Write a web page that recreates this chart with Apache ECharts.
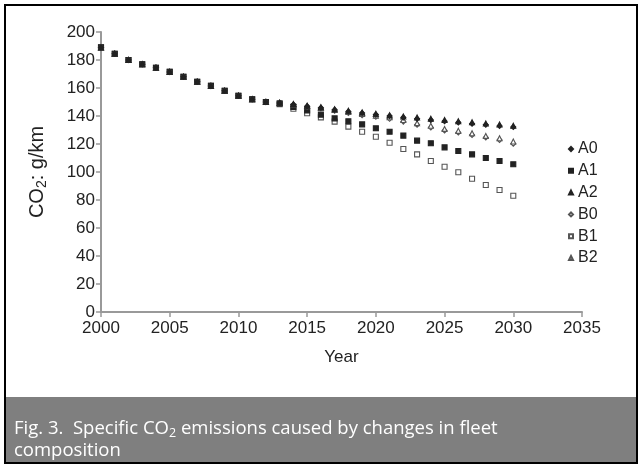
<!DOCTYPE html>
<html>
<head>
<meta charset="utf-8">
<script src="https://cdn.jsdelivr.net/npm/echarts@6/dist/echarts.min.js"></script>
<style>
html,body{margin:0;padding:0;background:#fff;}
#c{width:642px;height:468px;}
</style>
</head>
<body>
<div id="c"></div>
<script>
const years = [2000,2001,2002,2003,2004,2005,2006,2007,2008,2009,2010,2011,2012,2013,2014,2015,2016,2017,2018,2019,2020,2021,2022,2023,2024,2025,2026,2027,2028,2029,2030];
const common = [189,184.5,180,177,174.5,171.5,168,164.5,161.5,158,154.5,152,150];
const A0 = common.concat([149.3,148.2,147,145.9,144.5,143.2,142.1,141,140,139,138.1,137.2,136.3,135.4,134.5,133.7,132.9,132.1]);
const A1 = common.concat([149,146.5,144,141,138.3,136.2,134,131.2,128.8,126,122.4,120.5,117.6,115,112.6,110,107.9,105.5]);
const A2 = common.concat([149.5,148.6,147.4,146.3,144.9,143.7,142.6,141.6,140.6,139.7,138.9,138,137.2,136.3,135.5,134.7,133.9,133.1]);
const B0 = common.concat([149.2,148,146.6,145.3,143.7,142.2,140.6,139.4,138,136,133.8,131.8,129.6,128.2,126.5,124.6,122.9,120.2]);
const B1 = common.concat([148.5,145.2,142,139,136,132.4,128.8,125.2,120.9,116.4,112.6,107.9,103.8,99.8,95.2,90.7,87.1,83]);
const B2 = common.concat([149.4,148.3,147,145.8,144.3,142.9,141.4,140.3,139.1,137.1,134.9,133,130.8,129.4,127.7,125.8,124.1,121.8]);
const seriesNames = ['A0','A1','A2','B0','B1','B2'];
const xTicks = [2000,2005,2010,2015,2020,2025,2030,2035];
const yTicks = [0,20,40,60,80,100,120,140,160,180,200];

const dataMap = {A0,A1,A2,B0,B1,B2};
const styles = {
  A0:{symbol:'diamond',size:5,fill:'#222',stroke:'#222'},
  A1:{symbol:'rect',size:5,fill:'#222',stroke:'#222'},
  A2:{symbol:'triangle',size:5,fill:'#222',stroke:'#222'},
  B0:{symbol:'diamond',size:5,fill:'#fff',stroke:'#555'},
  B1:{symbol:'rect',size:5,fill:'#fff',stroke:'#555'},
  B2:{symbol:'triangle',size:5,fill:'#fff',stroke:'#555'}
};
const drawOrder = ['B1','A1','B0','B2','A0','A2'];

const chart = echarts.init(document.getElementById('c'), null, {renderer:'canvas'});
const font = 'Liberation Sans, Arial, sans-serif';
const series = drawOrder.map(n => ({
  name:n, type:'scatter', symbol:styles[n].symbol, symbolSize:styles[n].size,
  itemStyle:{color:styles[n].fill, borderColor:styles[n].stroke, borderWidth:1.1, opacity:1},
  data: years.map((y,i)=>[y, dataMap[n][i]]),
  z: 2
}));
chart.setOption({
  animation:false,
  backgroundColor:'#fff',
  grid:{left:101,right:60,top:32,bottom:156,containLabel:false},
  legend:{
    data: seriesNames.map(n=>({name:n, icon:styles[n].symbol})),
    orient:'vertical', left:563, top:136, itemWidth:4, itemHeight:4, itemGap:5.8,
    textStyle:{fontFamily:font, fontSize:16, color:'#222', lineHeight:16},
    selectedMode:false
  },
  xAxis:{
    type:'value', min:2000, max:2035, interval:5,
    name:'Year', nameLocation:'middle', nameGap:37,
    nameTextStyle:{fontFamily:font, fontSize:17, color:'#222'},
    axisLine:{show:true, lineStyle:{color:'#999', width:2}},
    axisTick:{show:true, length:5, lineStyle:{color:'#999', width:1.5}},
    axisLabel:{fontFamily:font, fontSize:17, color:'#222', margin:8,
      formatter:v=> xTicks.includes(v) ? String(v) : ''},
    splitLine:{show:false}
  },
  yAxis:{
    type:'value', min:0, max:200, interval:20,
    name:'{n|CO}{s|2}{n|: g/km}', nameLocation:'middle', nameGap:52, nameRotate:90,
    nameTextStyle:{rich:{
      n:{fontFamily:font, fontSize:20, color:'#222'},
      s:{fontFamily:font, fontSize:14, color:'#222', verticalAlign:'bottom', padding:[9,0,0,0]}
    }},
    axisLine:{show:true, lineStyle:{color:'#999', width:2}},
    axisTick:{show:true, length:5, lineStyle:{color:'#999', width:1.5}},
    axisLabel:{fontFamily:font, fontSize:17, color:'#222', margin:6,
      formatter:v=> yTicks.includes(v) ? String(v) : ''},
    splitLine:{show:false}
  },
  graphic:[
    {type:'rect', shape:{x:5,y:397,width:632,height:66}, style:{fill:'#7f7f7f'}, z:1},
    {type:'rect', shape:{x:5,y:5,width:632,height:458}, style:{fill:'none', stroke:'#000', lineWidth:2}, z:10},
    {type:'text', left:14, top:418, z:11, style:{
      text:'{t|Fig. 3.  Specific CO}{s|2}{t| emissions caused by changes in fleet}\n{t|composition}',
      rich:{
        t:{fontFamily:'Open Sans, sans-serif', fontSize:18.5, fill:'#fff', lineHeight:22},
        s:{fontFamily:'Open Sans, sans-serif', fontSize:12.5, fill:'#fff', padding:[9,0,0,0], lineHeight:22}
      }
    }}
  ],
  series: series
});
</script>
</body>
</html>
